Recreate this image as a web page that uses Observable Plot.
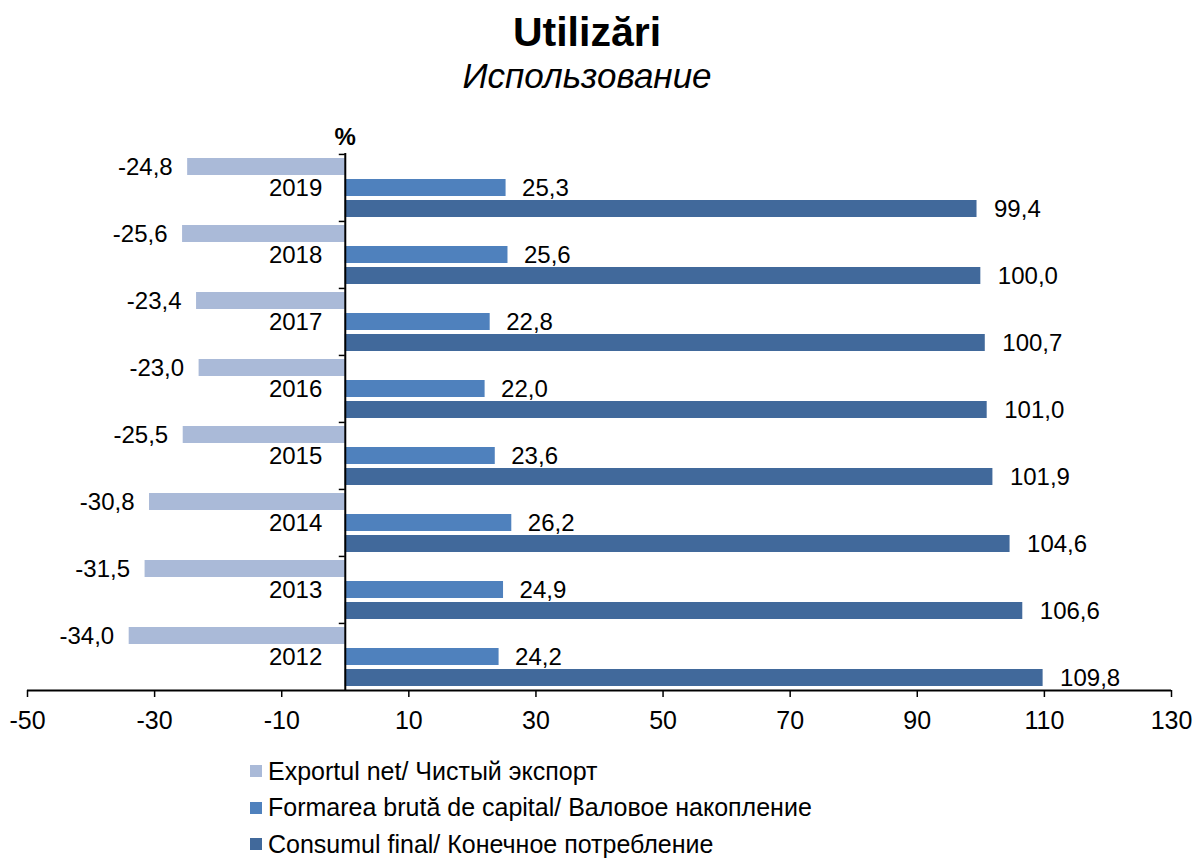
<!DOCTYPE html>
<html>
<head>
<meta charset="utf-8">
<script src="https://cdn.jsdelivr.net/npm/d3@7"></script>
<script src="https://cdn.jsdelivr.net/npm/@observablehq/plot@0.6"></script>
<style>
  html, body { margin: 0; padding: 0; background: #fff; }
  body { width: 1196px; height: 860px; position: relative; overflow: hidden;
         font-family: "Liberation Sans", Arial, sans-serif; color: #000; }
  #title { position: absolute; left: 0; width: 1174px; top: 12px; text-align: center;
           font-size: 41px; line-height: 41px; font-weight: bold; }
  #subtitle { position: absolute; left: 0; width: 1174px; top: 58px; text-align: center;
              font-size: 35px; line-height: 35px; font-style: italic; }
  #chart { position: absolute; left: 0; top: 100px; }
  #legend { position: absolute; left: 250px; top: 753px; }
  .row { display: flex; align-items: center; height: 36.5px; font-size: 25px; }
  .sw { width: 12px; height: 12px; margin-right: 6px; flex: none; }
</style>
</head>
<body>
<div id="title">Utilizări</div>
<div id="subtitle">Использование</div>
<div id="chart"></div>
<div id="legend"></div>
<script>
const years = ["2012", "2013", "2014", "2015", "2016", "2017", "2018", "2019"];
const exportNet = [-34.0, -31.5, -30.8, -25.5, -23.0, -23.4, -25.6, -24.8];
const capital = [24.2, 24.9, 26.2, 23.6, 22.0, 22.8, 25.6, 25.3];
const consum = [109.8, 106.6, 104.6, 101.9, 101.0, 100.7, 100.0, 99.4];
const seriesNames = [
  "Exportul net/ Чистый экспорт",
  "Formarea brută de capital/ Валовое накопление",
  "Consumul final/ Конечное потребление"
];
const colors = ["#AABAD8", "#4F81BD", "#41699B"];
const xTicks = [-50, -30, -10, 10, 30, 50, 70, 90, 110, 130];

const rows = years.map((year, i) => ({year, exportNet: exportNet[i], capital: capital[i], consum: consum[i]}));
const fmt = v => v.toFixed(1).replace(".", ",");

const band = 537 / 8;
const half = band / 2;

const chart = Plot.plot({
  width: 1196,
  height: 640,
  marginTop: 53,
  marginBottom: 50,
  marginLeft: 27,
  marginRight: 25,
  style: {fontFamily: "'Liberation Sans', Arial, sans-serif", fontSize: "24px", color: "#000", background: "#fff"},
  x: {domain: [-50, 130]},
  y: {domain: years.slice().reverse(), padding: 0, axis: null},
  marks: [
    Plot.barX(rows, {x1: 0, x2: "exportNet", y: "year", fill: colors[0], insetTop: 4, insetBottom: 46}),
    Plot.barX(rows, {x1: 0, x2: "capital", y: "year", fill: colors[1], insetTop: 25, insetBottom: 25}),
    Plot.barX(rows, {x1: 0, x2: "consum", y: "year", fill: colors[2], insetTop: 46, insetBottom: 4}),
    Plot.text(rows, {x: "exportNet", y: "year", text: d => fmt(d.exportNet), textAnchor: "end", dx: -15, dy: -21, fill: "#000"}),
    Plot.text(rows, {x: "capital", y: "year", text: d => fmt(d.capital), textAnchor: "start", dx: 16, dy: 0, fill: "#000"}),
    Plot.text(rows, {x: "consum", y: "year", text: d => fmt(d.consum), textAnchor: "start", dx: 17, dy: 21, fill: "#000"}),
    Plot.text(rows, {x: 0, y: "year", text: "year", textAnchor: "end", dx: -23, fill: "#000"}),
    Plot.ruleX([0], {stroke: "#000", strokeWidth: 2}),
    Plot.ruleY(rows, {y: "year", x1: 0, x2: 0, insetLeft: -6, dy: -half, stroke: "#000", strokeWidth: 1.5}),
    Plot.ruleY([years[0]], {y: d => d, dy: half, stroke: "#000", strokeWidth: 2}),
    Plot.axisX({ticks: xTicks, tickFormat: d => String(d), tickSize: 7, tickPadding: 14, strokeWidth: 1.5, fontSize: 25}),
    Plot.text(["%"], {x: 0, frameAnchor: "top", dy: -26, text: d => d, fontWeight: "bold", fill: "#000"})
  ]
});
document.getElementById("chart").appendChild(chart);

const legend = document.getElementById("legend");
seriesNames.forEach((name, i) => {
  const row = document.createElement("div");
  row.className = "row";
  const sw = document.createElement("span");
  sw.className = "sw";
  sw.style.background = colors[i];
  const label = document.createElement("span");
  label.textContent = name;
  row.appendChild(sw);
  row.appendChild(label);
  legend.appendChild(row);
});
</script>
</body>
</html>
